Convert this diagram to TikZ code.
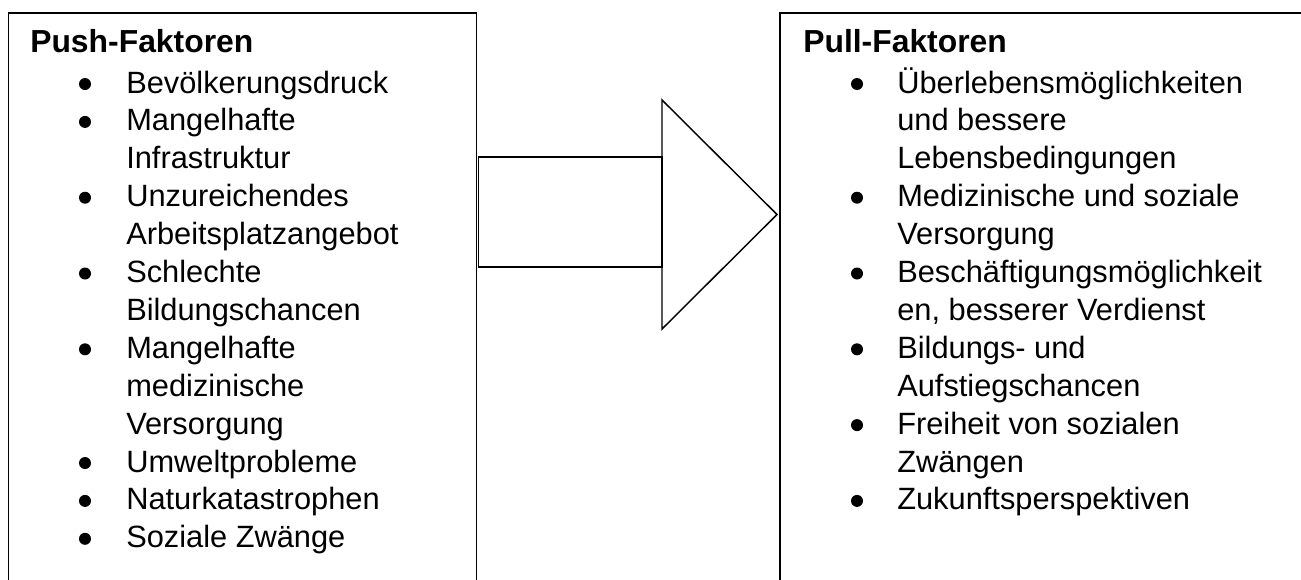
\documentclass[tikz,border=0pt]{standalone}
\usepackage{fontspec}
\setmainfont{Liberation Sans}
\begin{document}
\begin{tikzpicture}[x=0.75pt,y=-0.75pt,
  frame/.style={draw=black,line width=1.1pt},
  arrowpart/.style={draw=black,line width=1.1pt,line join=miter},
  head/.style={anchor=base west,inner sep=0pt,font=\fontsize{23.9}{28}\selectfont\bfseries},
  item/.style={anchor=base west,inner sep=0pt,font=\fontsize{23.1}{28}\selectfont},
  dot/.style={fill=black,draw=none,circle,minimum size=9pt,inner sep=0pt}]
\useasboundingbox (0,0) rectangle (1301,579);
\begin{scope}
\clip (0,0) rectangle (1301,579);
% boxes
\draw[frame] (8.5,590) -- (8.5,13) -- (476.7,13) -- (476.7,590);
\draw[frame] (780,590) -- (780,13) -- (1310,13);
% arrow
\draw[arrowpart] (478.5,157) rectangle (662,267);
\draw[arrowpart] (662,100) -- (777,214.5) -- (662,329) -- cycle;
\end{scope}
% left
\node[head] (lh) at (30,52) {Push-Faktoren};
\foreach \i/\t in {1/Bevölkerungsdruck,2/Mangelhafte,3/Infrastruktur,4/Unzureichendes,5/Arbeitsplatzangebot,6/Schlechte,7/Bildungschancen,8/Mangelhafte,9/medizinische,10/Versorgung,11/Umweltprobleme,12/Naturkatastrophen,13/Soziale Zwänge}
  \node[item] (l\i) at (126,{93+37.9*(\i-1)}) {\t};
\foreach \i in {1,2,4,6,8,11,12,13}
  \node[dot] (lb\i) at (85,{93+37.9*(\i-1)-9}) {};
% right
\node[head] (rh) at (803,52) {Pull-Faktoren};
\foreach \i/\t in {1/Überlebensmöglichkeiten,2/und bessere,3/Lebensbedingungen,4/Medizinische und soziale,5/Versorgung,6/Beschäftigungsmöglichkeit,7/{en, besserer Verdienst},8/Bildungs- und,9/Aufstiegschancen,10/Freiheit von sozialen,11/Zwängen,12/Zukunftsperspektiven}
  \node[item] (r\i) at (897,{93+37.9*(\i-1)}) {\t};
\foreach \i in {1,4,6,8,10,12}
  \node[dot] (rb\i) at (857,{93+37.9*(\i-1)-9}) {};
\end{tikzpicture}
\end{document}
